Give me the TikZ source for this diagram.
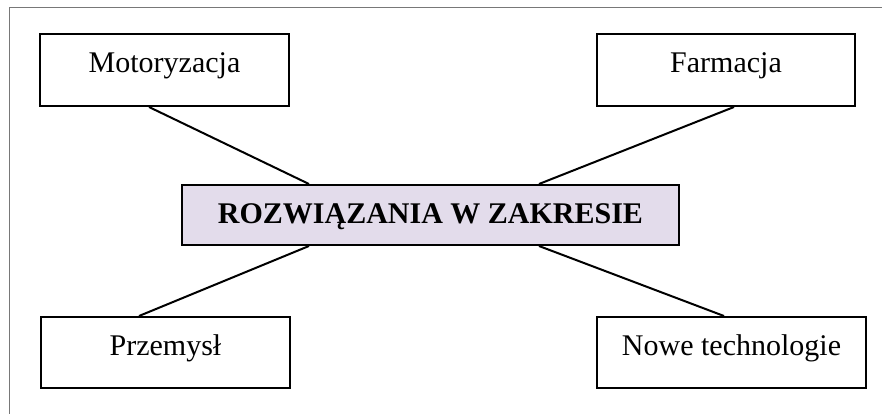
\documentclass[tikz,border=0pt]{standalone}
\usepackage{fontspec}
\setmainfont{Liberation Serif}
\usetikzlibrary{calc}
\definecolor{lav}{RGB}{227,220,235}
\definecolor{framegray}{RGB}{120,120,120}
\begin{document}
\begin{tikzpicture}[x=1pt,y=-1pt,
  box/.style={draw=black,line width=2pt,inner sep=0pt,font=\fontsize{30}{36}\selectfont},
  link/.style={draw=black,line width=2pt}]
\useasboundingbox (0,0) rectangle (882,414);
\draw[framegray,line width=1pt] (9,414) -- (9,8) -- (882,8);
% outer boxes
\node[box,minimum width=249pt,minimum height=72pt,text height=20pt,text depth=14pt] (mot) at (164.5,70) {Motoryzacja};
\node[box,minimum width=258pt,minimum height=72pt,text height=20pt,text depth=14pt] (far) at (726,70) {Farmacja};
\node[box,minimum width=249pt,minimum height=71pt,text height=20pt,text depth=15pt] (prz) at (165.5,352.5) {Przemysł};
\node[box,minimum width=269pt,minimum height=71pt,text height=20pt,text depth=15pt] (now) at (731.5,352.5) {Nowe technologie};
% centre box
\node[box,fill=lav,minimum width=497pt,minimum height=60pt,text height=24pt,text depth=8pt,font=\fontsize{30}{36}\selectfont\bfseries] (cen) at (430.5,215) {ROZWIĄZANIA W ZAKRESIE};
% connectors
\draw[link] ($(mot.south west)+(110,0)$) -- ($(cen.north west)+(128,0)$);
\draw[link] ($(far.south west)+(138,0)$) -- ($(cen.north west)+(358,0)$);
\draw[link] ($(prz.north west)+(99,0)$) -- ($(cen.south west)+(128,0)$);
\draw[link] ($(now.north west)+(128,0)$) -- ($(cen.south west)+(358,0)$);
\end{tikzpicture}
\end{document}
